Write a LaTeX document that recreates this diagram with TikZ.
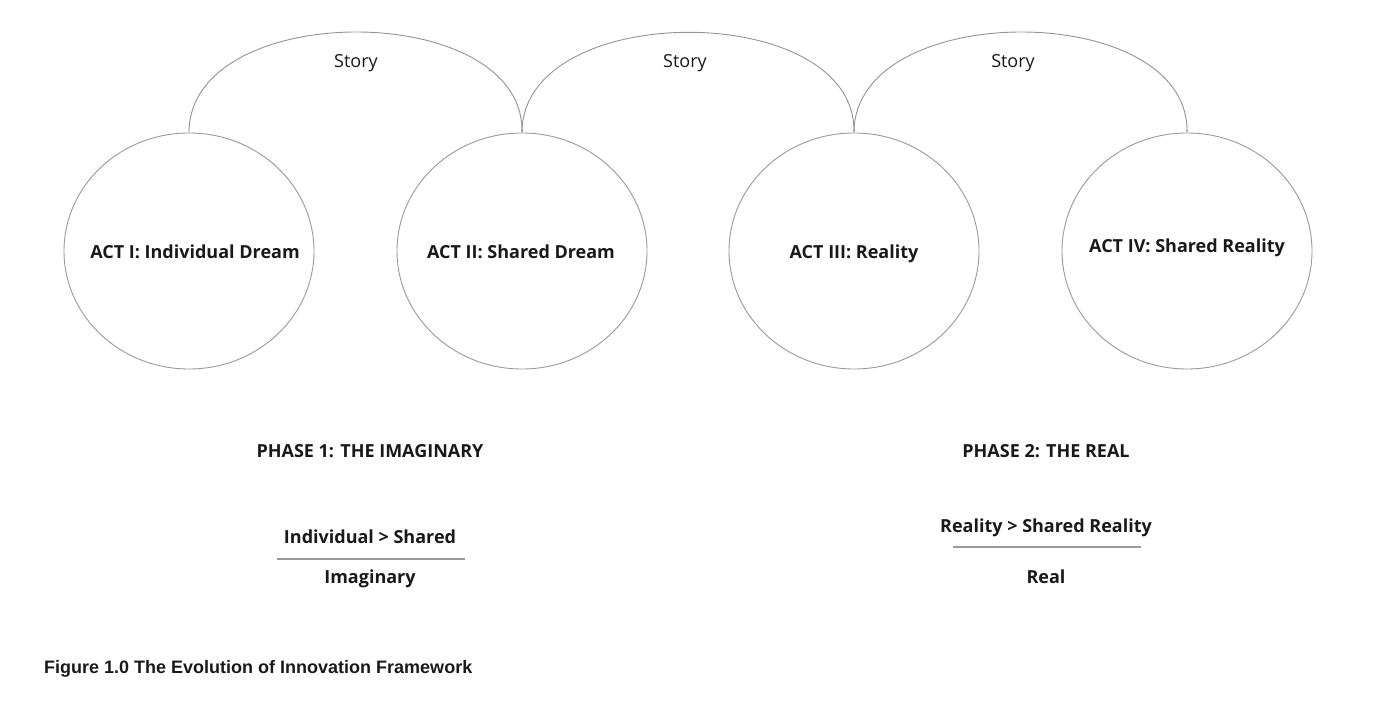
\documentclass[tikz,border=0pt]{standalone}
\usepackage{fontspec}
\setmainfont{Open Sans}
\newfontfamily\capfont{Liberation Sans}
\usetikzlibrary{shapes.geometric,arrows.meta}
\begin{document}
\begin{tikzpicture}[x=1pt,y=-1pt,
  actcircle/.style={ellipse,draw=gray!80,line width=0.9pt,minimum width=250pt,minimum height=236pt,inner sep=0pt},
  txt/.style={text height=1.4ex,text depth=0.3ex,inner sep=0pt,text=black!90,yshift=-4.5pt},
  acttext/.style={txt,font=\bfseries\fontsize{18}{21}\selectfont},
  storyarc/.style={draw=gray!85,line width=0.9pt,-{Stealth[length=3pt,width=2.4pt]},out=90,in=90,looseness=1.03},
  storytext/.style={txt,font=\fontsize{18}{21}\selectfont},
  phasetext/.style={txt,font=\bfseries\fontsize{18}{21}\selectfont},
  rule/.style={draw=gray!80,line width=1.1pt},
  captext/.style={font=\capfont\bfseries\fontsize{18}{21}\selectfont,anchor=west,inner sep=0pt,txt}]
\useasboundingbox (0,0) rectangle (1380,719);
\node[actcircle] (a1) at (189,251) {};
\node[actcircle] (a2) at (522,251) {};
\node[actcircle] (a3) at (854,251) {};
\node[actcircle] (a4) at (1187,251) {};
\node[acttext] (t1) at (195,251) {ACT I: Individual Dream};
\node[acttext] (t2) at (521,251) {ACT II: Shared Dream};
\node[acttext] (t3) at (854,251) {ACT III: Reality};
\node[acttext] (t4) at (1187,245) {ACT IV: Shared Reality};
\draw[storyarc] (a1.north) to (a2.north);
\draw[storyarc] (a2.north) to (a3.north);
\draw[storyarc] (a3.north) to (a4.north);
\node[storytext] (s1) at (356,60) {Story};
\node[storytext] (s2) at (685,60) {Story};
\node[storytext] (s3) at (1013,60) {Story};
\node[phasetext] (p1) at (370,450) {PHASE 1: THE IMAGINARY};
\node[phasetext] (p2) at (1046,450) {PHASE 2: THE REAL};
\node[phasetext] (f1) at (370,536) {Individual > Shared};
\node[phasetext] (g1) at (370,576) {Imaginary};
\coordinate (l1a) at (277,559);
\coordinate (l1b) at (465,559);
\draw[rule] (l1a) -- (l1b);
\node[phasetext] (f2) at (1046,525) {Reality > Shared Reality};
\node[phasetext] (g2) at (1046,576) {Real};
\coordinate (l2a) at (953,547);
\coordinate (l2b) at (1141,547);
\draw[rule] (l2a) -- (l2b);
\node[captext] (cap) at (44,666) {Figure 1.0 The Evolution of Innovation Framework};
\end{tikzpicture}
\end{document}
